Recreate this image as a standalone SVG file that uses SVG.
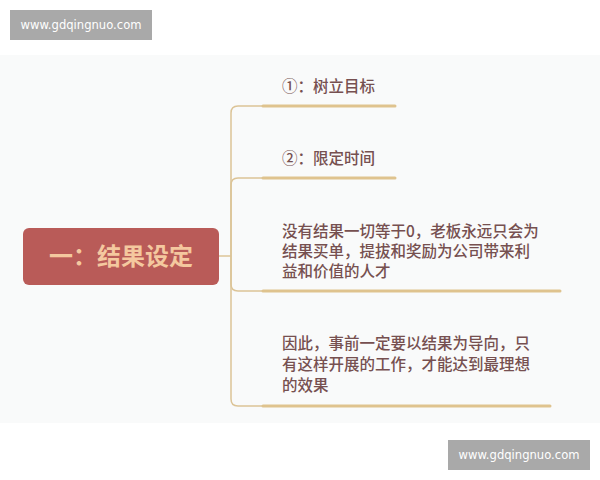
<svg xmlns="http://www.w3.org/2000/svg" width="600" height="480" viewBox="0 0 600 480">
<style>
.wm{fill:#a9a9a9}
.wmt{fill:#ffffff;font-family:"DejaVu Sans","Noto Sans",sans-serif;font-size:13px}
.conn{fill:none;stroke:#dcc497;stroke-width:1.5}
.ul{fill:none;stroke:#dfc38e;stroke-width:3;stroke-linecap:round}
.bt{fill:#765050;font-family:"Noto Sans CJK SC","Noto Sans",sans-serif;font-size:15.5px;font-weight:500}
.mt{fill:#f4c89f;font-family:"Noto Sans CJK SC","Noto Sans",sans-serif;font-size:24px;font-weight:bold}
</style>
<rect x="0" y="0" width="600" height="480" fill="#ffffff"/>
<rect x="0" y="55" width="600" height="368" fill="#f9fafa"/>
<g id="watermark-top">
<rect class="wm" x="10" y="10" width="142" height="30"/>
<text class="wmt" x="81" y="29" text-anchor="middle" textLength="121" lengthAdjust="spacingAndGlyphs">www.gdqingnuo.com</text>
</g>
<g id="watermark-bottom">
<rect class="wm" x="448" y="440" width="142" height="30"/>
<text class="wmt" x="519" y="459" text-anchor="middle" textLength="121" lengthAdjust="spacingAndGlyphs">www.gdqingnuo.com</text>
</g>
<g id="connectors">
<path class="conn" d="M219,256 H231"/>
<path class="conn" d="M231,256 V113 Q231,106 238,106 H264"/>
<path class="conn" d="M231,256 V185 Q231,178 238,178 H264"/>
<path class="conn" d="M231,256 V284 Q231,291 238,291 H264"/>
<path class="conn" d="M231,256 V399 Q231,406 238,406 H264"/>
</g>
<g id="root">
<rect x="23" y="228" width="196" height="57" rx="6" fill="#b95b58"/>
<text class="mt" x="121" y="265" text-anchor="middle">一：结果设定</text>
</g>
<g id="branch1">
<text class="bt" x="282" y="92">①：树立目标</text>
<path class="ul" d="M263,106 H395"/>
</g>
<g id="branch2">
<text class="bt" x="282" y="164">②：限定时间</text>
<path class="ul" d="M263,178 H395"/>
</g>
<g id="branch3">
<text class="bt" x="282" y="237">没有结果一切等于0，老板永远只会为</text>
<text class="bt" x="282" y="257">结果买单，提拔和奖励为公司带来利</text>
<text class="bt" x="282" y="277">益和价值的人才</text>
<path class="ul" d="M263,291 H560"/>
</g>
<g id="branch4">
<text class="bt" x="282" y="349">因此，事前一定要以结果为导向，只</text>
<text class="bt" x="282" y="370">有这样开展的工作，才能达到最理想</text>
<text class="bt" x="282" y="391">的效果</text>
<path class="ul" d="M263,406 H550"/>
</g>
</svg>
